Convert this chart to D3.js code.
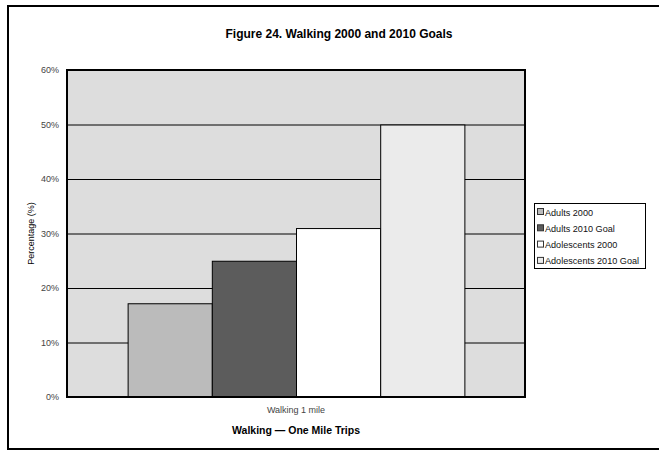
<!DOCTYPE html>
<html>
<head>
<meta charset="utf-8">
<script src="https://cdn.jsdelivr.net/npm/d3@7"></script>
<style>
  body { margin: 0; background: #fff; }
  text { font-family: "Liberation Sans", Arial, sans-serif; }
</style>
</head>
<body>
<div id="chart"></div>
<script>
// chart data
const categories = ["Walking 1 mile"];
const seriesNames = ["Adults 2000", "Adults 2010 Goal", "Adolescents 2000", "Adolescents 2010 Goal"];
const seriesValues = [17.2, 25, 31, 50];
const seriesColors = ["#bbbbbb", "#5c5c5c", "#ffffff", "#ebebeb"];
const yTicks = [0, 10, 20, 30, 40, 50, 60];

const width = 659;
const height = 452;
const margin = {left: 67, right: 134, top: 70, bottom: 55};

const svg = d3.select("#chart")
  .append("svg")
  .attr("width", width)
  .attr("height", height);

// outer frame (right edge runs off the picture)
svg.append("rect")
  .attr("x", 8).attr("y", 6)
  .attr("width", 670).attr("height", 443)
  .attr("fill", "none")
  .attr("stroke", "#000")
  .attr("stroke-width", 2);

// scales
const yScale = d3.scaleLinear()
  .domain([0, 60])
  .range([height - margin.bottom, margin.top]);

const xScale = d3.scaleBand()
  .domain(categories)
  .range([margin.left, width - margin.right])
  .paddingInner(0)
  .paddingOuter(0.18);

const xInner = d3.scaleBand()
  .domain(seriesNames)
  .range([0, xScale.bandwidth()]);

// plot background
svg.append("rect")
  .attr("x", margin.left)
  .attr("y", margin.top)
  .attr("width", width - margin.left - margin.right)
  .attr("height", height - margin.top - margin.bottom)
  .attr("fill", "#dddddd");

// gridlines
svg.append("g")
  .selectAll("line")
  .data(yTicks.slice(1, -1))
  .enter()
  .append("line")
    .attr("x1", margin.left)
    .attr("x2", width - margin.right)
    .attr("y1", d => yScale(d) + 0.5)
    .attr("y2", d => yScale(d) + 0.5)
    .attr("stroke", "#000")
    .attr("stroke-width", 1);

// bars
const group = svg.append("g")
  .attr("transform", `translate(${xScale(categories[0])},0)`);

group.selectAll(".bar")
  .data(seriesValues)
  .enter()
  .append("rect")
    .attr("class", "bar")
    .attr("x", (d, i) => xInner(seriesNames[i]) + 0.5)
    .attr("y", d => yScale(d) + 0.5)
    .attr("width", xInner.bandwidth())
    .attr("height", d => yScale(0) - yScale(d))
    .attr("fill", (d, i) => seriesColors[i])
    .attr("stroke", "#000")
    .attr("stroke-width", 1);

// plot border
svg.append("rect")
  .attr("x", margin.left)
  .attr("y", margin.top)
  .attr("width", width - margin.left - margin.right)
  .attr("height", height - margin.top - margin.bottom)
  .attr("fill", "none")
  .attr("stroke", "#000")
  .attr("stroke-width", 2);

// y axis labels
const yAxis = svg.append("g")
  .attr("transform", `translate(${margin.left - 5},0)`)
  .call(d3.axisLeft(yScale).tickValues(yTicks).tickSize(0).tickFormat(d => d + "%"));
yAxis.select(".domain").remove();
yAxis.selectAll("text")
  .attr("font-size", "9px")
  .attr("fill", "#444")
  .attr("font-family", "Liberation Sans, Arial, sans-serif");

// x axis label
const xAxis = svg.append("g")
  .attr("transform", `translate(0,${height - margin.bottom})`)
  .call(d3.axisBottom(xScale).tickSize(0).tickPadding(10));
xAxis.select(".domain").remove();
xAxis.selectAll("text")
  .attr("font-size", "9px")
  .attr("fill", "#444")
  .attr("font-family", "Liberation Sans, Arial, sans-serif");

// titles
svg.append("text")
  .attr("x", 339).attr("y", 38)
  .attr("text-anchor", "middle")
  .attr("font-size", "12px")
  .attr("font-weight", "bold")
  .text("Figure 24. Walking 2000 and 2010 Goals");

svg.append("text")
  .attr("x", 296).attr("y", 434)
  .attr("text-anchor", "middle")
  .attr("font-size", "10.5px")
  .attr("font-weight", "bold")
  .text("Walking \u2014 One Mile Trips");

svg.append("text")
  .attr("transform", `translate(34,${(margin.top + height - margin.bottom) / 2}) rotate(-90)`)
  .attr("text-anchor", "middle")
  .attr("font-size", "9px")
  .text("Percentage (%)");

// legend
const legend = svg.append("g").attr("transform", "translate(534,203)");
legend.append("rect")
  .attr("x", 0.5).attr("y", 0.5)
  .attr("width", 111).attr("height", 65)
  .attr("fill", "#fff")
  .attr("stroke", "#000");

const items = legend.selectAll(".item")
  .data(seriesNames)
  .enter()
  .append("g")
    .attr("class", "item")
    .attr("transform", (d, i) => `translate(3,${9 + i * 16.3})`);

items.append("rect")
  .attr("x", 0.5).attr("y", -3.5)
  .attr("width", 6).attr("height", 6)
  .attr("fill", (d, i) => seriesColors[i])
  .attr("stroke", "#333");

items.append("text")
  .attr("x", 8).attr("y", 3.5)
  .attr("font-size", "9.1px")
  .attr("fill", "#111")
  .text(d => d);
</script>
</body>
</html>
